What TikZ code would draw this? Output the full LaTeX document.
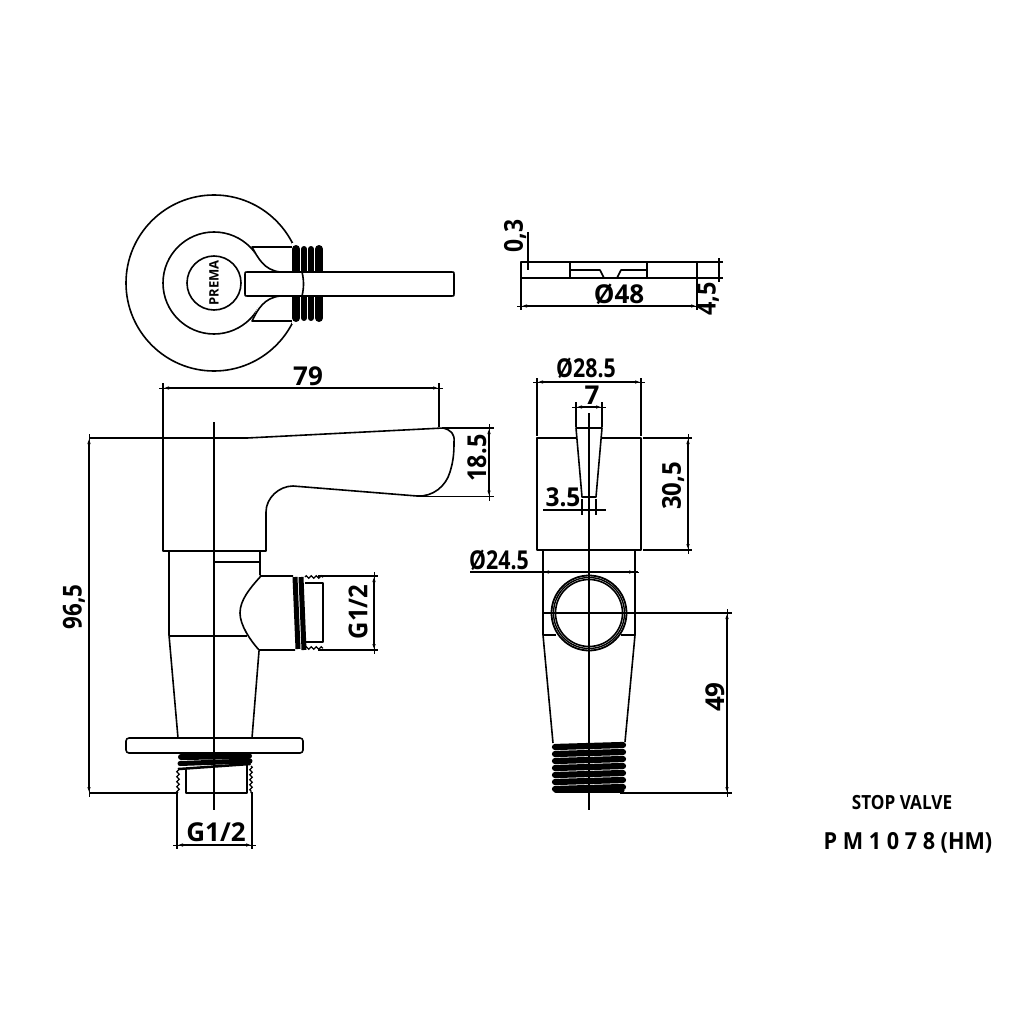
\documentclass[tikz,border=0pt]{standalone}
\usepackage{fontspec}
\setmainfont{Open Sans}
\usetikzlibrary{arrows.meta,decorations.pathmorphing}
\tikzset{
  part/.style={line width=1.6pt,line join=round,fill=white},
  lin/.style={line width=1.6pt,line join=round},
  ext/.style={line width=1.3pt},
  axisline/.style={line width=1.4pt},
  dimline/.style={line width=1.3pt,{Latex[length=6pt,width=3.5pt]}-{Latex[length=6pt,width=3.5pt]},
    preaction={draw,arrows=-,shorten >=-4pt,shorten <=-4pt}},
  dimtext/.style={font=\fontsize{26}{26}\selectfont\bfseries,inner sep=0pt,text=black},
  vtext/.style={dimtext,rotate=90},
  band/.style={line width=6.2pt,line cap=round},
  zig/.style={line width=1.2pt,decorate,decoration={zigzag,amplitude=1.3pt,segment length=5pt}}
}
\begin{document}
\begin{tikzpicture}[x=1pt,y=-1pt]
\useasboundingbox[fill=white] (0,0) rectangle (1024,1024);
% ---- top view
\draw[lin] (214,283) circle (88);
\draw[lin] (214,283) circle (51);
\draw[lin] (214,283) circle (27);
\fill[white] (252,247) -- (292,247) -- (292,321) -- (252,321) -- (262,296) -- (262,272) -- cycle;
\draw[lin] (280,272) .. controls (264,270) and (258,258) .. (252,247) -- (292,247);
\draw[lin] (280,296) .. controls (264,298) and (258,309) .. (252,321) -- (292,321);
\fill[white] (292,243) rectangle (324,324);
\foreach \xa/\wa in {296/8,304/6,311/6,319/8}
  \draw[line width=\wa pt,line cap=round] (\xa,249) -- (\xa,318);
\draw[part] (247,272) -- (452,272) .. controls (454,272) .. (454,274) -- (454,294) .. controls (454,296) .. (452,296)
  -- (247,296) .. controls (245,296) .. (245,294) -- (245,274) .. controls (245,272) .. (247,272) -- cycle;
\draw[lin] (302,272) .. controls (304,280) and (304,288) .. (302,296);
\node[rotate=90,inner sep=0pt,font=\fontsize{13}{13}\selectfont\bfseries] (brand) at (214,283) {PREMA};
% ---- plate
\draw[lin] (521,262) rectangle (697,278);
\draw[line width=2pt] (570,262) -- (570,278);
\draw[line width=2pt] (647,262) -- (647,278);
\draw[lin] (570,270) -- (600,270) -- (604,278);
\draw[lin] (647,270) -- (621,270) -- (617,278);
\draw[ext] (528,232) -- (528,270);
\node[vtext,xscale=.88] (t03) at (515,236) {0,3};
\draw[ext] (521,278) -- (521,310);
\draw[ext] (697,278) -- (697,310);
\coordinate (d48a) at (521,306); \coordinate (d48b) at (697,306);
\draw[dimline] (d48a) -- (d48b);
\node[dimtext] (t48) at (619,294) {Ø48};
\draw[ext] (697,262) -- (723,262);
\draw[ext] (697,278) -- (723,278);
\coordinate (d45a) at (719,262); \coordinate (d45b) at (719,278);
\draw[ext] (719,258) -- (719,282);
\node[vtext,xscale=.9] (t45) at (708,299) {4,5};
% ---- front view
\draw[part] (163,551) -- (163,438) -- (247,438) -- (443,428)
  .. controls (451,430) and (455,434) .. (454,442)
  .. controls (454,455) and (453,462) .. (450,472)
  .. controls (446,486) and (433,497) .. (417,496)
  -- (293,486) .. controls (279,486) and (266,498) .. (266,512) -- (266,551) -- cycle;
\draw[ext] (89,438) -- (163,438);
\draw[lin] (169,551) -- (169,635) -- (178,738);
\draw[lin] (260,551) -- (260,575);
\draw[lin] (259,651) -- (252,738);
\draw[lin] (214,562) -- (260,562);
\draw[lin] (169,636) -- (247,636);
\draw[lin] (260,575) -- (261,576) -- (293,576);
\draw[lin] (261,576) .. controls (250,588) and (240,600) .. (240,613)
  .. controls (240,625) and (250,640) .. (259,650) -- (295,650);
% port thread
\draw[line width=5pt] (295,577) -- (298,649);
\draw[line width=5pt] (301,577) -- (304,650);
\draw[lin] (305,583) -- (323,583) -- (323,642) -- (305,642);
\draw[zig] (305,577) -- (323,577);
\draw[zig] (305,648) -- (323,648);
\draw[ext] (318,576) -- (378,576);
\draw[ext] (318,650) -- (378,650);
\coordinate (dg2a) at (374,576); \coordinate (dg2b) at (374,650);
\draw[dimline] (dg2a) -- (dg2b);
\node[vtext,xscale=.92] (tg2) at (358,612) {G1/2};
% flange
\draw[part,rounded corners=3pt] (126,738) rectangle (303,753);
% bottom thread
\draw[line width=6pt,line cap=round] (181,757) -- (249,756);
\draw[line width=5pt,line cap=round] (180,763.5) -- (250,761);
\draw[line width=2.5pt,line cap=round] (179,769) -- (250,764);
\draw[lin] (186,768) -- (186,793) -- (247,793) -- (247,765);
\draw[zig] (178,768) -- (178,793);
\draw[zig] (251,766) -- (251,793);
\draw[ext] (89,793) -- (178,793);
\coordinate (d96a) at (89,438); \coordinate (d96b) at (89,793);
\draw[dimline] (d96a) -- (d96b);
\node[vtext,xscale=.86] (t96) at (74,607) {96,5};
\draw[ext] (177,793) -- (177,849);
\draw[ext] (252,792) -- (252,849);
\coordinate (dg1a) at (177,845); \coordinate (dg1b) at (252,845);
\draw[dimline] (dg1a) -- (dg1b);
\node[dimtext] (tg1) at (216,832) {G1/2};
\draw[axisline] (214,422) -- (214,810);
% 79 and 18.5
\draw[ext] (163,383) -- (163,438);
\draw[ext] (439,383) -- (439,427);
\coordinate (d79a) at (163,388); \coordinate (d79b) at (439,388);
\draw[dimline] (d79a) -- (d79b);
\node[dimtext] (t79) at (308,376) {79};
\draw[ext] (443,428) -- (494,428);
\draw[ext] (420,496.5) -- (494,496.5);
\coordinate (d18a) at (489,428); \coordinate (d18b) at (489,496.5);
\draw[dimline] (d18a) -- (d18b);
\node[vtext,xscale=.9] (t18) at (477,458) {18.5};
% ---- side view
\draw[part] (537,438) rectangle (641,550);
\draw[part] (576,428) -- (602,428) -- (596,497) -- (582,497) -- cycle;
\draw[ext] (537,378) -- (537,436);
\draw[ext] (641,378) -- (641,436);
\coordinate (d28a) at (537,382); \coordinate (d28b) at (641,382);
\draw[dimline] (d28a) -- (d28b);
\node[dimtext,xscale=.82] (t28) at (586,368) {Ø28.5};
\draw[ext] (576,402) -- (576,427);
\draw[ext] (602,402) -- (602,427);
\coordinate (d7a) at (576,407); \coordinate (d7b) at (602,407);
\draw[dimline] (d7a) -- (d7b);
\node[dimtext] (t7) at (592,395) {7};
\draw[ext] (582,499) -- (582,515);
\draw[ext] (596,499) -- (596,515);
\draw[ext] (543,510) -- (606,510);
\node[dimtext,xscale=.94] (t35) at (563,497) {3.5};
\draw[ext] (643,438) -- (692,438);
\draw[ext] (643,550) -- (692,550);
\coordinate (d30a) at (688,438); \coordinate (d30b) at (688,550);
\draw[dimline] (d30a) -- (d30b);
\node[vtext,xscale=.92] (t30) at (673,486) {30,5};
% lower body
\draw[lin] (543,550) -- (543,635) -- (553,743);
\draw[lin] (635,550) -- (635,635) -- (625,742);
\draw[lin] (543,635) -- (556,635);
\draw[lin] (621,635) -- (635,635);
\draw[ext] (470,572) -- (547,572);
\draw[ext] (632,572) -- (638,572);
\coordinate (d24a) at (543,572); \coordinate (d24b) at (635,572);
\draw[dimline] (d24a) -- (d24b);
\node[dimtext,xscale=.82] (t24) at (499,560) {Ø24.5};
\draw[part,line width=1.8pt] (589,613) circle (37.5);
\draw[line width=1.4pt] (589,613) circle (35.5);
\draw[line width=1.6pt] (589,613) circle (33.5);
\draw[ext] (543,613) -- (732,613);
\draw[ext] (620,793) -- (732,793);
\coordinate (d49a) at (727,613); \coordinate (d49b) at (727,793);
\draw[dimline] (d49a) -- (d49b);
\node[vtext] (t49) at (715,697) {49};
\foreach \ya in {746,753,760,767,774,781,788}
  \draw[band] (555,\ya+1) -- (623,\ya-1);
\draw[line width=5pt,line cap=round] (556,790.5) -- (622,790.5);
\draw[axisline] (589,413) -- (589,810);
% ---- title
\node[inner sep=0pt,font=\fontsize{19.5}{20}\selectfont\bfseries,xscale=.88] (title) at (902,803) {STOP VALVE};
\node[inner sep=0pt,font=\fontsize{23.5}{24}\selectfont\bfseries,xscale=.92] (code) at (908,843) {P M 1 0 7 8 (HM)};
\end{tikzpicture}
\end{document}
